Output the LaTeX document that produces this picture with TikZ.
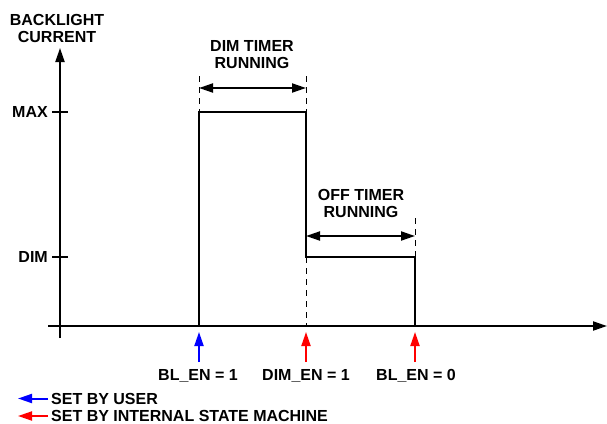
\documentclass[tikz,border=0pt]{standalone}
\usepackage{fontspec}
\setmainfont{Liberation Sans}
\usetikzlibrary{arrows.meta}
\definecolor{qqqqff}{rgb}{0,0,1}
\definecolor{ffqqqq}{rgb}{1,0,0}
\begin{document}
\begin{tikzpicture}[line cap=butt,line join=miter,>={Triangle[length=14pt,width=9pt]},x=1pt,y=-1pt,
    lbl/.style={font=\fontsize{16}{17}\selectfont\bfseries,inner sep=0pt,align=center},
    axis/.style={line width=2pt},
    guide/.style={line width=1pt,dash pattern=on 6pt off 5pt},
    span/.style={line width=2pt,<->},
    evt/.style={line width=2pt,->}]
	\useasboundingbox (0,0) rectangle (607,423);
	% axes
	\coordinate (ybot) at (60,338);
	\coordinate (ytop) at (60,48);
	\coordinate (xl) at (48,326);
	\coordinate (xr) at (607,326);
		\draw [axis,->] (ybot) -- (ytop);
		\draw [axis,->] (xl) -- (xr);
		\draw [axis] (52,112) -- (68,112);
		\draw [axis] (52,257) -- (68,257);
		\node[lbl] (ylab) at (57,28) {BACKLIGHT\\CURRENT};
		\node[lbl,anchor=east] (max) at (48,112) {MAX};
		\node[lbl,anchor=east] (dim) at (48,257) {DIM};
	% pulse
	\coordinate (p0) at (199,326);
	\coordinate (p1) at (199,112);
	\coordinate (p2) at (306,112);
	\coordinate (p3) at (306,257);
	\coordinate (p4) at (415,257);
	\coordinate (p5) at (415,326);
		\draw [line width=2.8pt] (p0) -- (p1) -- (p2) -- (p3) -- (p4) -- (p5);
	% timers
	\coordinate (g1) at (199,76);
	\coordinate (g2) at (306,76);
	\coordinate (g3) at (415,218);
		\draw [guide] (g1) -- (p1);
		\draw [guide] (g2) -- (p2);
		\draw [guide] (p3) -- (306,326);
		\draw [guide] (g3) -- (p4);
		\draw [span] (199,88) -- (306,88);
		\draw [span] (306,236) -- (415,236);
		\node[lbl] (dimtmr) at (252,55) {DIM TIMER\\RUNNING};
		\node[lbl] (offtmr) at (361,203) {OFF TIMER\\RUNNING};
	% events
	\node[lbl,anchor=base] (en1) at (198,380) {BL\_EN = 1};
	\node[lbl,anchor=base] (dimen) at (306,380) {DIM\_EN = 1};
	\node[lbl,anchor=base] (en0) at (416,380) {BL\_EN = 0};
		\draw [qqqqff,evt] (199,362) -- (199,332);
		\draw [ffqqqq,evt] (306,362) -- (306,332);
		\draw [ffqqqq,evt] (415,362) -- (415,332);
	% legend
	\node[lbl,anchor=base west] (user) at (51,404) {SET BY USER};
	\node[lbl,anchor=base west] (fsm) at (51,421) {SET BY INTERNAL STATE MACHINE};
		\draw [qqqqff,evt] (48,398.5) -- (18,398.5);
		\draw [ffqqqq,evt] (48,416) -- (18,416);
\end{tikzpicture}
\end{document}
